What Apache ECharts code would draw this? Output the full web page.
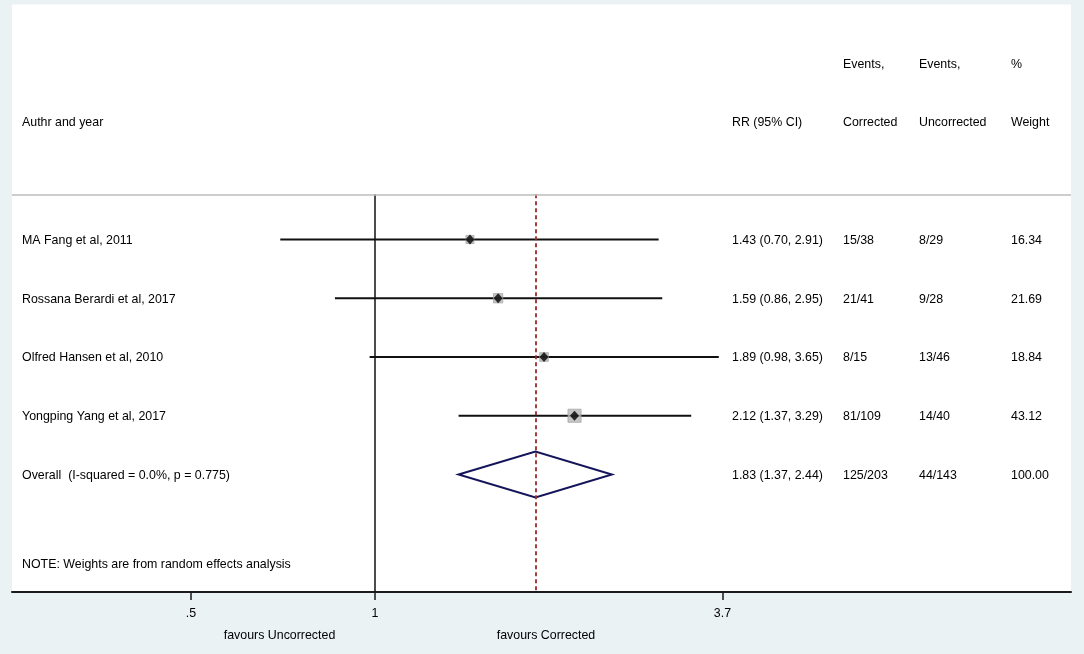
<!DOCTYPE html>
<html>
<head>
<meta charset="utf-8">
<script src="https://cdn.jsdelivr.net/npm/echarts@6/dist/echarts.min.js"></script>
<style>
  html, body { margin: 0; padding: 0; background: #eaf2f3; }
  #chart { width: 1084px; height: 654px; }
</style>
</head>
<body>
<div id="chart"></div>
<script>
// study rows
const studies = ['MA Fang et al, 2011', 'Rossana Berardi et al, 2017', 'Olfred Hansen et al, 2010', 'Yongping Yang et al, 2017'];
const rr = [1.43, 1.59, 1.89, 2.12];
const lower = [0.70, 0.86, 0.98, 1.37];
const upper = [2.91, 2.95, 3.65, 3.29];
const eventsCorrected = ['15/38', '21/41', '8/15', '81/109'];
const eventsUncorrected = ['8/29', '9/28', '13/46', '14/40'];
const weights = [16.34, 21.69, 18.84, 43.12];

// pooled estimate
const overallLabel = 'Overall  (I-squared = 0.0%, p = 0.775)';
const overall = { rr: 1.83, lower: 1.37, upper: 2.44, corrected: '125/203', uncorrected: '44/143', weight: '100.00' };

const noteText = 'NOTE: Weights are from random effects analysis';
const headerTop = ['', '', 'Events,', 'Events,', '%'];
const headerBottom = ['Authr and year', 'RR (95% CI)', 'Corrected', 'Uncorrected', 'Weight'];
const tickValues = [0.5, 1, 3.7];
const tickLabels = ['.5', '1', '3.7'];
const favourLabels = ['favours Uncorrected', 'favours Corrected'];
const favourAt = [0.698, 1.904];

// layout (pixels / row units)
const colX = [22, 732, 843, 919, 1011];
const headerRowTop = -3, headerRowBottom = -2, dividerRow = -0.77, noteRow = 5.52, favourRow = 6.74;
const FONT = '"Liberation Sans", Arial, Helvetica, sans-serif';
const FONT_SIZE = 12.4;

const fmt = v => v.toFixed(2);
const ciText = (e, l, u) => `${fmt(e)} (${fmt(l)}, ${fmt(u)})`;

// table rows: [row, col0, col1, col2, col3, col4]
const tableRows = [];
tableRows.push([headerRowTop, ...headerTop]);
tableRows.push([headerRowBottom, ...headerBottom]);
studies.forEach((s, i) => {
  tableRows.push([i, s, ciText(rr[i], lower[i], upper[i]), eventsCorrected[i], eventsUncorrected[i], fmt(weights[i])]);
});
tableRows.push([studies.length, overallLabel, ciText(overall.rr, overall.lower, overall.upper), overall.corrected, overall.uncorrected, overall.weight]);
tableRows.push([noteRow, noteText, '', '', '', '']);

const chart = echarts.init(document.getElementById('chart'));

const xMin = 0.2549, xMax = 13.75;
const overallRow = studies.length;

chart.setOption({
  backgroundColor: '#eaf2f3',
  animation: false,
  textStyle: { fontFamily: FONT },
  grid: {
    left: 12, right: 13, top: 4.5, bottom: 62,
    show: true, backgroundColor: '#ffffff', borderWidth: 0
  },
  xAxis: {
    type: 'log',
    logBase: Math.E,
    min: xMin,
    max: xMax,
    axisLine: { show: true, onZero: false, lineStyle: { color: '#1a1a1a', width: 2 } },
    axisTick: { show: true, customValues: tickValues, length: 8, lineStyle: { color: '#1a1a1a', width: 1.5 } },
    axisLabel: {
      show: true, customValues: tickValues, margin: 16, color: '#000', fontSize: FONT_SIZE, fontFamily: FONT,
      formatter: v => {
        const idx = tickValues.findIndex(t => Math.abs(t - v) < 1e-6);
        return idx >= 0 ? tickLabels[idx] : '';
      }
    },
    splitLine: { show: false }
  },
  yAxis: {
    type: 'value',
    inverse: true,
    min: -4,
    max: 6,
    show: false
  },
  series: [
    // confidence intervals
    {
      type: 'custom',
      coordinateSystem: 'cartesian2d',
      data: studies.map((s, i) => [lower[i], upper[i], i]),
      renderItem: (params, api) => {
        const a = api.coord([api.value(0), api.value(2)]);
        const b = api.coord([api.value(1), api.value(2)]);
        return {
          type: 'line',
          shape: { x1: a[0], y1: a[1], x2: b[0], y2: b[1] },
          style: { stroke: '#111', lineWidth: 2 }
        };
      },
      z: 2
    },
    // weight boxes
    {
      type: 'scatter',
      symbol: 'rect',
      data: studies.map((s, i) => [rr[i], i, weights[i]]),
      symbolSize: v => 2.0 * Math.sqrt(v[2]),
      itemStyle: { color: '#b8b8b8', borderColor: '#9a9a9a', borderWidth: 0.8 },
      z: 3
    },
    // point estimates
    {
      type: 'scatter',
      symbol: 'diamond',
      symbolSize: [9, 10],
      data: studies.map((s, i) => [rr[i], i]),
      itemStyle: { color: '#000' },
      z: 4
    },
    // pooled diamond
    {
      type: 'custom',
      data: [[overall.lower, overall.rr, overall.upper, overallRow]],
      renderItem: (params, api) => {
        const row = api.value(3), h = 0.39;
        const pts = [
          api.coord([api.value(0), row]),
          api.coord([api.value(1), row - h]),
          api.coord([api.value(2), row]),
          api.coord([api.value(1), row + h])
        ];
        return {
          type: 'polygon',
          shape: { points: pts },
          style: { fill: 'rgba(255,255,255,0)', stroke: '#14145a', lineWidth: 2 }
        };
      },
      z: 3
    },
    // reference lines and header divider
    {
      type: 'line',
      data: [],
      markLine: {
        silent: true,
        symbol: 'none',
        label: { show: false },
        data: [
          [{ coord: [1, dividerRow], lineStyle: { color: '#111', width: 1.5, type: 'solid' } }, { coord: [1, 6] }],
          [{ coord: [overall.rr, dividerRow], lineStyle: { color: '#9e2a2b', width: 1.8, type: [4, 3] } }, { coord: [overall.rr, 6] }],
          [{ coord: [xMin, dividerRow], lineStyle: { color: '#bcbcbc', width: 1.5, type: 'solid' } }, { coord: [xMax, dividerRow] }]
        ]
      },
      z: 1
    },
    // table text
    {
      type: 'custom',
      data: tableRows,
      clip: false,
      renderItem: (params, api) => {
        const row = api.value(0);
        const y = api.coord([1, row])[1] + 1;
        const cells = tableRows[params.dataIndex].slice(1);
        return {
          type: 'group',
          children: cells.map((t, c) => ({
            type: 'text',
            x: colX[c],
            y: y,
            style: { text: t, fill: '#000', font: FONT_SIZE + 'px ' + FONT, textAlign: 'left', textVerticalAlign: 'middle' }
          }))
        };
      },
      z: 5
    },
    // favours labels under the axis
    {
      type: 'custom',
      data: favourAt.map((v, i) => [v, favourRow]),
      clip: false,
      renderItem: (params, api) => {
        const p = api.coord([api.value(0), api.value(1)]);
        return {
          type: 'text',
          x: p[0],
          y: p[1],
          style: { text: favourLabels[params.dataIndex], fill: '#000', font: FONT_SIZE + 'px ' + FONT, textAlign: 'center', textVerticalAlign: 'middle' }
        };
      },
      z: 5
    }
  ]
});
</script>
</body>
</html>
